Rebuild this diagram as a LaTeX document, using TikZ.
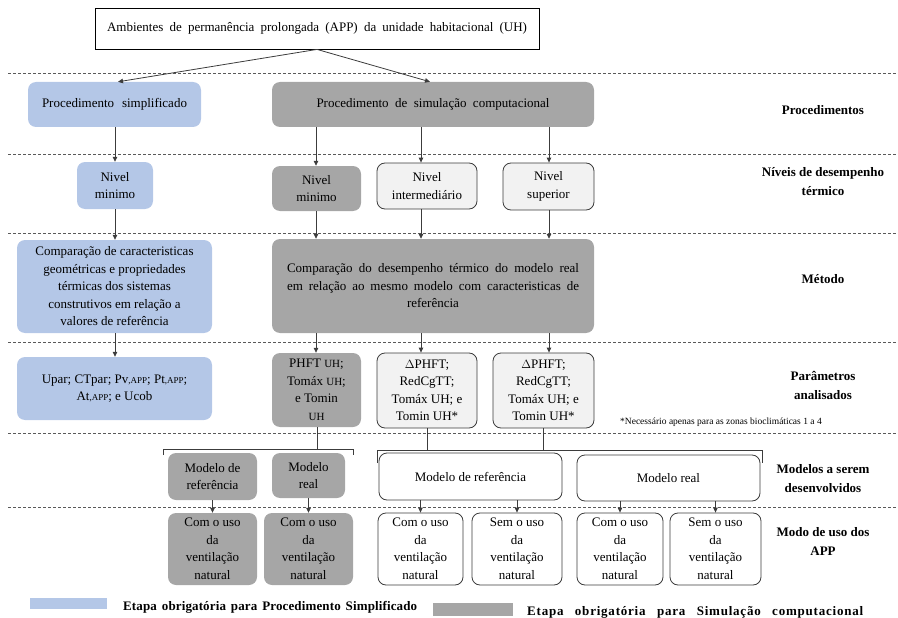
\documentclass[tikz,border=0pt]{standalone}
\usepackage{fontspec}
\setmainfont{Liberation Serif}
\newfontfamily\legendfont[LetterSpace=1]{Liberation Serif}
\newfontfamily\legendwidefont[LetterSpace=6]{Liberation Serif}
\usetikzlibrary{arrows.meta}

\definecolor{simpblue}{HTML}{B4C7E7}
\definecolor{simgray}{HTML}{A6A6A6}
\definecolor{palefill}{HTML}{F2F2F2}
\definecolor{ink}{HTML}{3C3C3C}

\newcommand\appsub{{\fontsize{9}{9}\selectfont ,APP}}
\newcommand\uhsmall{{\fontsize{11}{11}\selectfont UH}}

\begin{document}
\begin{tikzpicture}[x=1pt,y=-1pt,
  every node/.style={font=\fontsize{13}{17.5}\selectfont, inner sep=0pt, align=center, text=black},
  bluebox/.style={fill=simpblue, rounded corners=8pt},
  graybox/.style={fill=simgray, rounded corners=8pt},
  whitebox/.style={draw=ink, line width=0.8pt, fill=white, rounded corners=8pt},
  palebox/.style={draw=ink, line width=0.8pt, fill=palefill, rounded corners=8pt},
  arr/.style={draw=ink, line width=0.8pt, -{Triangle[length=5pt,width=4.5pt]}},
  link/.style={draw=ink, line width=0.8pt},
  sepline/.style={draw=ink!85, line width=0.7pt, dash pattern=on 3pt off 2pt},
  rowlabel/.style={font=\bfseries\fontsize{13}{19}\selectfont},
  legendtext/.style={anchor=west, font=\legendfont\bfseries\fontsize{13}{15}\selectfont},
  legendwide/.style={anchor=west, font=\legendwidefont\bfseries\fontsize{13}{15}\selectfont},
]
\useasboundingbox (0,0) rectangle (898,618);

% horizontal separators between the rows
\foreach \yy in {73,154,233,342,433,507}
  \draw[sepline] (8,\yy) -- (898,\yy);

% top box
\node[draw=black, line width=0.8pt, fill=white, minimum width=444, minimum height=41] (top) at (317,28.5)
  {\makebox[420pt][s]{Ambientes de permanência prolongada (APP) da unidade habitacional (UH)}};

% procedures
\node[bluebox, minimum width=173, minimum height=45] (simp) at (114.5,104.5)
  {\makebox[145pt][s]{Procedimento simplificado}};
\node[graybox, minimum width=322, minimum height=45] (sim) at (433,104.5)
  {\makebox[233pt][s]{Procedimento de simulação computacional}};

% performance levels
\node[bluebox, minimum width=76, minimum height=47] (nminB) at (115,185.5) {Nivel\\minimo};
\node[graybox, minimum width=89, minimum height=45] (nminG) at (316.5,188.5) {Nivel\\minimo};
\node[palebox, minimum width=100, minimum height=46] (nint) at (427,186) {Nivel\\intermediário};
\node[palebox, minimum width=91, minimum height=47] (nsup) at (548.5,186.5) {Nivel\\superior};

% methods
\node[bluebox, minimum width=195, minimum height=93] (metB) at (114.5,286.5)
  {Comparação de caracteristicas\\geométricas e propriedades\\térmicas dos sistemas\\construtivos em relação a\\valores de referência};
\node[graybox, minimum width=322, minimum height=94] (metG) at (433,286)
  {\makebox[292pt][s]{Comparação do desempenho térmico do modelo real}\\
   \makebox[292pt][s]{em relação ao mesmo modelo com caracteristicas de}\\referência};

% analysed parameters
\node[bluebox, minimum width=195, minimum height=63] (parB) at (114.5,388.5)
  {Upar; CTpar; Pv\appsub; Pt\appsub;\\At\appsub; e Ucob};
\node[graybox, minimum width=89, minimum height=74] (parG) at (316.5,390)
  {PHFT \uhsmall;\\Tomáx \uhsmall;\\e Tomin\\\uhsmall};
\node[palebox, minimum width=100, minimum height=75] (parI) at (427,390.5)
  {$\Delta$PHFT;\\RedCgTT;\\Tomáx UH; e\\Tomin UH*};
\node[palebox, minimum width=101, minimum height=75] (parS) at (543.5,390.5)
  {$\Delta$PHFT;\\RedCgTT;\\Tomáx UH; e\\Tomin UH*};
\node[anchor=west, font=\fontsize{9.5}{10}\selectfont] (note) at (620,422)
  {*Necessário apenas para as zonas bioclimáticas 1 a 4};

% models
\node[graybox, minimum width=89, minimum height=47] (mrefG) at (212.5,476.5) {Modelo de\\referência};
\node[graybox, minimum width=73, minimum height=45] (mrealG) at (308.5,475.5) {Modelo\\real};
\node[whitebox, minimum width=183, minimum height=47] (mrefW) at (470.5,476.5) {Modelo de referência};
\node[whitebox, minimum width=183, minimum height=46] (mrealW) at (668.5,478) {Modelo real};

% modes of use
\node[graybox, minimum width=89, minimum height=72] (u1) at (212.5,549) {Com o uso\\da\\ventilação\\natural};
\node[graybox, minimum width=89, minimum height=72] (u2) at (308.5,549) {Com o uso\\da\\ventilação\\natural};
\node[whitebox, minimum width=85, minimum height=72] (u3) at (420.5,549) {Com o uso\\da\\ventilação\\natural};
\node[whitebox, minimum width=90, minimum height=72] (u4) at (517,549) {Sem o uso\\da\\ventilação\\natural};
\node[whitebox, minimum width=86, minimum height=72] (u5) at (620,549) {Com o uso\\da\\ventilação\\natural};
\node[whitebox, minimum width=91, minimum height=72] (u6) at (715.5,549) {Sem o uso\\da\\ventilação\\natural};

% row labels
\node[rowlabel] (lproc) at (823,110) {Procedimentos};
\node[rowlabel] (lniv) at (823,182) {Níveis de desempenho\\térmico};
\node[rowlabel] (lmet) at (823,279) {Método};
\node[rowlabel] (lpar) at (823,385) {Parâmetros\\analisados};
\node[rowlabel] (lmod) at (823,479) {Modelos a serem\\desenvolvidos};
\node[rowlabel] (luso) at (823,541) {Modo de uso dos\\APP};

% legend
\node[fill=simpblue, minimum width=77, minimum height=11] (legB) at (68.5,603.5) {};
\node[legendtext] (legBt) at (123,607)
  {\makebox[294pt][s]{Etapa obrigatória para Procedimento Simplificado}};
\node[fill=simgray, minimum width=80, minimum height=13] (legG) at (473,609.5) {};
\node[legendwide] (legGt) at (527,612)
  {\makebox[336pt][s]{Etapa obrigatória para Simulação computacional}};

% column positions of the vertical connectors
\coordinate (cL) at (118,0);
\coordinate (cR) at (430,0);
\coordinate (cA) at (115,0);
\coordinate (cG) at (316,0);
\coordinate (cB) at (421,0);
\coordinate (cC) at (549,0);

% connectors
\draw[arr] (top.south) -- (simp.north -| cL);
\draw[arr] (top.south) -- (sim.north -| cR);

\draw[arr] (simp.south -| cA) -- (nminB.north -| cA);
\draw[arr] (nminB.south -| cA) -- (metB.north -| cA);
\draw[arr] (metB.south -| cA) -- (parB.north -| cA);

\draw[arr] (sim.south -| cG) -- (nminG.north -| cG);
\draw[arr] (sim.south -| cB) -- (nint.north -| cB);
\draw[arr] (sim.south -| cC) -- (nsup.north -| cC);
\draw[arr] (nminG.south -| cG) -- (metG.north -| cG);
\draw[arr] (nint.south -| cB) -- (metG.north -| cB);
\draw[arr] (nsup.south -| cC) -- (metG.north -| cC);
\draw[arr] (metG.south -| cG) -- (parG.north -| cG);
\draw[arr] (metG.south -| cB) -- (parI.north -| cB);
\draw[arr] (metG.south -| cC) -- (parS.north -| cC);

% brackets joining the parameters to the models
\coordinate (gj) at (317,449);
\coordinate (bgl) at (163,455);
\coordinate (bgr) at (353,455);
\draw[link] (parG.south -| gj) -- (gj);
\draw[link] (bgl) -- (bgl |- gj) -- (bgr |- gj) -- (bgr);

\coordinate (wj1) at (427,450);
\coordinate (wj2) at (543,450);
\coordinate (bwl) at (377,463);
\coordinate (bwr) at (762,463);
\draw[link] (parI.south -| wj1) -- (wj1);
\draw[link] (parS.south -| wj2) -- (wj2);
\draw[link] (bwl) -- (bwl |- wj1) -- (bwr |- wj1) -- (bwr);

% models to modes of use
\draw[arr] (mrefG.south) -- (u1.north);
\draw[arr] (mrealG.south) -- (u2.north);
\draw[arr] (mrefW.south -| u3) -- (u3.north);
\draw[arr] (mrefW.south -| u4) -- (u4.north);
\draw[arr] (mrealW.south -| u5) -- (u5.north);
\draw[arr] (mrealW.south -| u6) -- (u6.north);
\end{tikzpicture}
\end{document}
